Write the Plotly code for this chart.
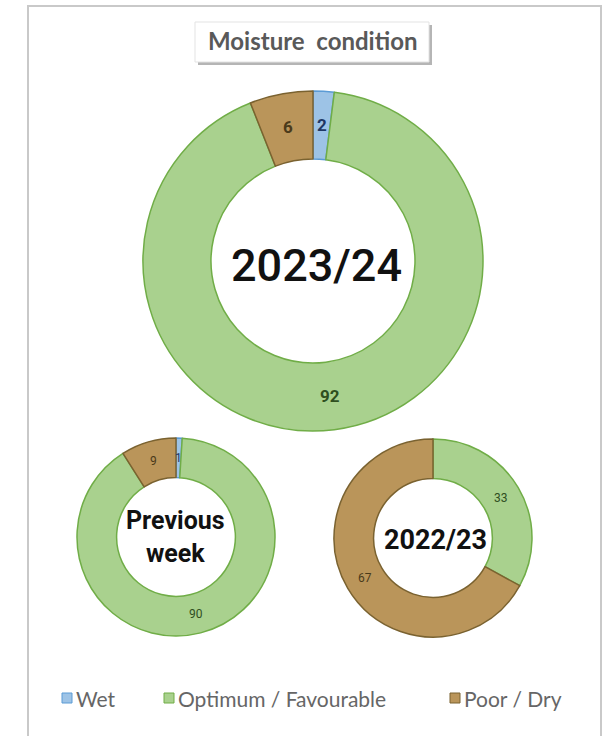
import plotly.graph_objects as go
import math

# Moisture condition shares (%) per period
categories = ["Wet", "Optimum / Favourable", "Poor / Dry"]
current_season = [2, 92, 6]      # 2023/24
previous_week = [1, 90, 9]
last_season = [0, 33, 67]        # 2022/23

fill_colors = ["#9dc3e6", "#a9d18e", "#ba955a"]
line_colors = ["#5b9bd5", "#70ad47", "#7a6230"]
label_colors = ["#1f3864", "#2f4f1f", "#4a3a1a"]

W, H = 613, 736
HOLE = 0.6


def px_x(x):
    return x / W


def px_y(y):
    return 1 - y / H


def note(x, y, text, size, color, family="Roboto", weight="normal", xanchor="center"):
    return dict(
        x=px_x(x), y=px_y(y), xref="paper", yref="paper",
        xanchor=xanchor, yanchor="middle",
        text=text, showarrow=False,
        font=dict(family=family, size=size, color=color, weight=weight),
    )


fig = go.Figure()

# (values, centre x px, centre y px, radius px, centre title, title offset, title size, title weight, label size, bold labels)
donuts = [
    (current_season, 313, 261, 170, "2023/24", (3, 4), 45, 500, 17, True),
    (previous_week, 176, 537, 99, "Previous<br>week", (0, 0), 25, "bold", 12, False),
    (last_season, 433, 538, 99, "2022/23", (2, 2), 27, "bold", 12, False),
]

annotations = []
for vals, cx, cy, r, title, (dx, dy), tsize, tweight, lsize, bold in donuts:
    fig.add_trace(go.Pie(
        labels=categories,
        values=vals,
        hole=HOLE,
        sort=False,
        direction="clockwise",
        rotation=0,
        textinfo="none",
        marker=dict(colors=fill_colors, line=dict(color=line_colors, width=1.5)),
        domain=dict(x=[px_x(cx - r), px_x(cx + r)], y=[px_y(cy + r), px_y(cy - r)]),
        showlegend=False,
        hoverinfo="label+value",
    ))
    annotations.append(note(cx + dx, cy + dy, title, tsize, "#111111", weight=tweight))
    # value labels at the middle of each slice, halfway across the ring
    total = sum(vals)
    cum = 0
    r_lab = r * (1 + HOLE) / 2
    for j, v in enumerate(vals):
        if v > 0:
            ang = 2 * math.pi * (cum + v / 2) / total
            lx = cx + r_lab * math.sin(ang)
            ly = cy - r_lab * math.cos(ang)
            annotations.append(note(lx, ly, str(v), lsize, label_colors[j],
                                    weight="bold" if bold else "normal"))
        cum += v

# chart title in a shadowed box
annotations.append(note(313, 41, "Moisture&nbsp; condition", 24, "#595959",
                        family="Lato", weight="bold"))

shapes = [
    # outer frame
    dict(type="rect", xref="paper", yref="paper",
         x0=px_x(28), x1=px_x(601), y0=px_y(760), y1=px_y(6),
         line=dict(color="#c9c9c9", width=2), fillcolor="rgba(0,0,0,0)"),
    # title box shadow
    dict(type="rect", xref="paper", yref="paper",
         x0=px_x(198), x1=px_x(432), y0=px_y(65), y1=px_y(25),
         line=dict(width=0), fillcolor="#b5b5b5"),
    # title box
    dict(type="rect", xref="paper", yref="paper",
         x0=px_x(195), x1=px_x(429), y0=px_y(62), y1=px_y(22),
         line=dict(color="#e3e3e3", width=1), fillcolor="#ffffff"),
]

# legend: coloured square + category name
legend_x = [62, 164, 450]
legend_y = 698
for name, xs, fc, lc in zip(categories, legend_x, fill_colors, line_colors):
    shapes.append(dict(
        type="rect", xref="paper", yref="paper",
        x0=px_x(xs), x1=px_x(xs + 10), y0=px_y(legend_y + 5), y1=px_y(legend_y - 5),
        line=dict(color=lc, width=1), fillcolor=fc,
    ))
    annotations.append(note(xs + 12, legend_y, name, 21, "#666666",
                            family="Lato", xanchor="left"))

fig.update_layout(
    width=W, height=H,
    margin=dict(l=0, r=0, t=0, b=0),
    paper_bgcolor="#ffffff",
    plot_bgcolor="#ffffff",
    annotations=annotations,
    shapes=shapes,
    showlegend=False,
)

fig.write_html("out.html")
